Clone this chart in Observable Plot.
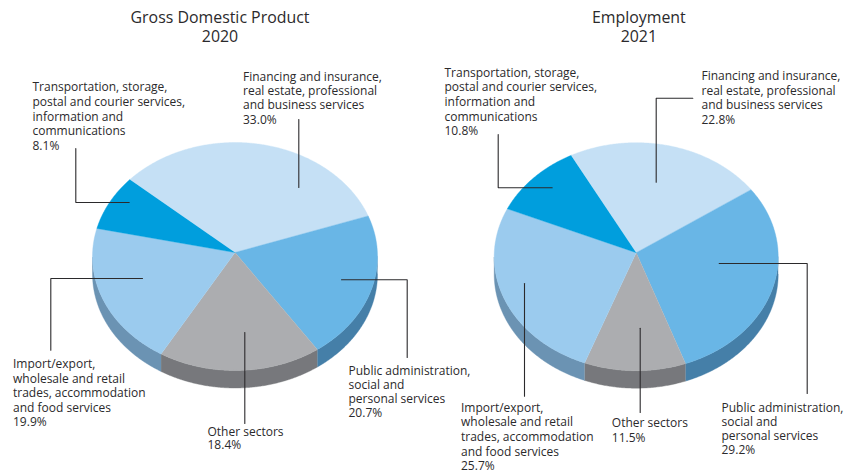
<!DOCTYPE html>
<html>
<head>
<meta charset="utf-8">
<script src="https://cdn.jsdelivr.net/npm/d3@7"></script>
<script src="https://cdn.jsdelivr.net/npm/@observablehq/plot@0.6"></script>
<style>
  html, body { margin: 0; padding: 0; background: #fff; }
  svg { display: block; }
</style>
</head>
<body>
<div id="chart"></div>
<script>
// Sector shares in percent, listed clockwise around each pie
const categories = ["finance", "public", "other", "trade", "transport"];
const gdpShares = [33.0, 20.7, 18.4, 19.9, 8.1];
const employmentShares = [22.8, 29.2, 11.5, 25.7, 10.8];

const categoryText = [
  ["Financing and insurance,", "real estate, professional", "and business services"],
  ["Public administration,", "social and", "personal services"],
  ["Other sectors"],
  ["Import/export,", "wholesale and retail", "trades, accommodation", "and food services"],
  ["Transportation, storage,", "postal and courier services,", "information and", "communications"]
];

const topColors = ["#c5e0f5", "#69b6e6", "#acadb0", "#9bcbee", "#009edd"];
const sideColors = ["#c5e0f5", "#457fa8", "#77787c", "#6b93b3", "#009edd"];

// Pie geometry and annotation placement for each panel
const panels = [
  {
    title: ["Gross Domestic Product", "2020"], titleX: 219.5, shares: gdpShares,
    cx: 234.5, cy: 252, rx: 142.5, start: -48.2,
    labels: [[242.5, 76.3, 14.4], [348, 370.3, 14], [207, 431.7, 12.5], [12.5, 363.7, 14.6], [32, 87, 14.7]],
    leaders: [
      [[298.3, 119], [298.3, 187]],
      [[341, 279.3], [406.7, 279.3], [406.7, 357]],
      [[244.3, 332], [244.3, 423]],
      [[142, 278], [50.3, 278], [50.3, 349.7]],
      [[75.3, 148], [75.3, 202], [128.7, 202]]
    ]
  },
  {
    title: ["Employment", "2021"], titleX: 638.3, shares: employmentShares,
    cx: 635.7, cy: 252.2, rx: 142, start: -27.4,
    labels: [[701, 76, 14.4], [721, 407.7, 14], [611.3, 423, 14.5], [460.5, 407.3, 14.7], [444, 72.3, 14.7]],
    leaders: [
      [[692.3, 97.7], [655.7, 97.7], [655.7, 181.7]],
      [[718.7, 263], [806.7, 263], [806.7, 393]],
      [[639.7, 327.7], [639.7, 412]],
      [[524, 283], [524, 395.7]],
      [[497.7, 134], [497.7, 187.3], [551.7, 187.3]]
    ]
  }
];

// The rim is an ellipse whose centre sits a little below the pie's apex;
// the far half of the disc is foreshortened slightly more than the near half
const rimRadiusY = 114;
const rimDrop = 4;
const farTilt = 0.775;
const nearTilt = 0.828;
const depth = 17.5;
const toRad = Math.PI / 180;

// Where the ray from the apex at a given angle meets the rim
function rimPoint(p, deg) {
  const c = Math.cos(deg * toRad);
  const dx = Math.sin(deg * toRad);
  const dy = -(c > 0 ? farTilt : nearTilt) * c;
  const A = (dx * dx) / (p.rx * p.rx) + (dy * dy) / (rimRadiusY * rimRadiusY);
  const B = (2 * dy * -rimDrop) / (rimRadiusY * rimRadiusY);
  const C = (rimDrop * rimDrop) / (rimRadiusY * rimRadiusY) - 1;
  const t = (-B + Math.sqrt(B * B - 4 * A * C)) / (2 * A);
  return {x: p.cx + t * dx, y: p.cy + t * dy};
}

function arc(p, from, to) {
  const pts = [];
  const n = Math.max(2, Math.ceil(Math.abs(to - from) * 2));
  for (let i = 0; i <= n; i++) pts.push(rimPoint(p, from + (to - from) * i / n));
  return pts;
}

const wedgeRows = [];
const sideRows = [];
const labelRows = [];
const leaderRows = [];

panels.forEach((p, pi) => {
  const total = d3.sum(p.shares);
  let angle = p.start;
  p.shares.forEach((share, i) => {
    const from = angle;
    const to = angle + share / total * 360;
    angle = to;
    const rim = arc(p, from, to);

    // Flat top of the slice
    const key = `${pi}-${categories[i]}`;
    [{x: p.cx, y: p.cy}, ...rim].forEach(q =>
      wedgeRows.push({key, x: q.x, y: q.y, color: topColors[i]}));

    // Visible wall along the front half of the pie
    const front = rim.filter(q => q.y >= p.cy + rimDrop);
    if (front.length > 1) {
      [...front, ...front.slice().reverse().map(q => ({x: q.x, y: q.y + depth}))].forEach(q =>
        sideRows.push({key, x: q.x, y: q.y, color: sideColors[i]}));
    }

    // Label lines, with the value as the last line
    const [lx, ly, step] = p.labels[i];
    [...categoryText[i], `${share.toFixed(1)}%`].forEach((text, j) =>
      labelRows.push({x: lx, y: ly + j * step, text}));

    p.leaders[i].forEach(([x, y]) => leaderRows.push({key, x, y}));
  });
});

const titleRows = panels.flatMap(p => p.title.map((text, j) => ({x: p.titleX, y: 17 + j * 19.7, text})));

const fontFamily = "'Open Sans', sans-serif";

const chart = Plot.plot({
  width: 845,
  height: 473,
  margin: 0,
  style: {background: "#fff"},
  x: {domain: [0, 845], range: [0, 845], axis: null},
  y: {domain: [0, 473], range: [0, 473], axis: null},
  color: {type: "identity"},
  marks: [
    Plot.line(sideRows, {x: "x", y: "y", z: "key", fill: "color", stroke: "color", strokeWidth: 0.4}),
    Plot.line(wedgeRows, {x: "x", y: "y", z: "key", fill: "color", stroke: "color", strokeWidth: 0.4}),
    Plot.line(leaderRows, {x: "x", y: "y", z: "key", stroke: "#2b2a2c", strokeWidth: 1.1, strokeLinejoin: "miter"}),
    Plot.text(labelRows, {
      x: "x", y: "y", text: "text", textAnchor: "start", lineAnchor: "middle",
      fontFamily, fontSize: 12, fill: "#2b2a2c"
    }),
    Plot.text(titleRows, {
      x: "x", y: "y", text: "text", textAnchor: "middle", lineAnchor: "middle",
      fontFamily, fontSize: 15.9, fill: "#2b2a2c"
    })
  ]
});

document.getElementById("chart").appendChild(chart);
</script>
</body>
</html>
